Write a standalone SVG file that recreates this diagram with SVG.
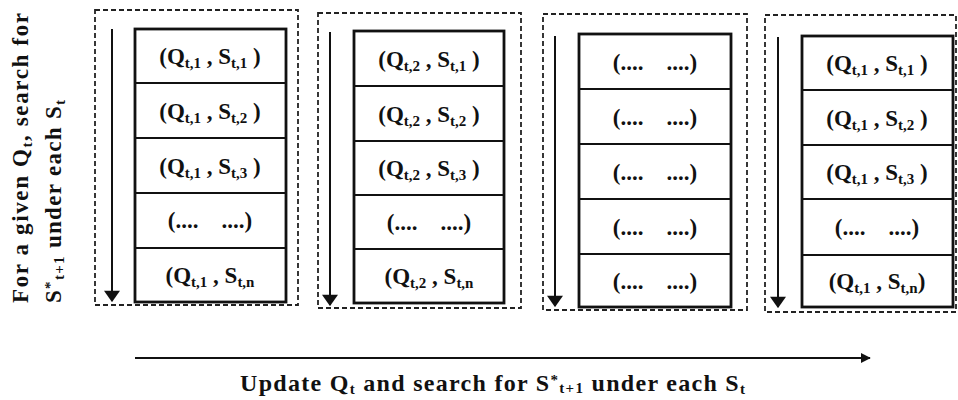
<svg xmlns="http://www.w3.org/2000/svg" width="958" height="400" viewBox="0 0 958 400">
<style>
text{font-family:"Liberation Serif","Times New Roman",serif;font-weight:bold;fill:#111;white-space:pre}
.cell{font-size:23px;text-anchor:middle}
.sub{font-size:15px}
.dash{fill:none;stroke:#222;stroke-width:1.8;stroke-dasharray:5 3}
.tbl{fill:#fff;stroke:#111;stroke-width:2.8}
.row{stroke:#111;stroke-width:2.2}
.arr{stroke:#111;stroke-width:2;fill:none}
.lbl{font-size:23px}
</style>
<defs>
<marker id="ah" viewBox="0 0 10 14" refX="9" refY="7" markerWidth="6" markerHeight="8" markerUnits="strokeWidth" orient="auto">
<path d="M0,0 L10,7 L0,14 z" fill="#111"/>
</marker>
<marker id="ah2" viewBox="0 0 12 12" refX="11" refY="6" markerWidth="5" markerHeight="5" markerUnits="strokeWidth" orient="auto">
<path d="M0,0 L12,6 L0,12 z" fill="#111"/>
</marker>
</defs>
<rect width="958" height="400" fill="#fff"/>

<g id="side-label">
<text class="lbl" transform="translate(28,303) rotate(-90)" textLength="290" lengthAdjust="spacing">For a given Q<tspan class="sub" dy="4">t</tspan><tspan dy="-4">, search for</tspan></text>
<text class="lbl" transform="translate(61,303) rotate(-90)" textLength="203" lengthAdjust="spacing">S<tspan class="sub" dy="-6">*</tspan><tspan class="sub" dy="9">t+1</tspan><tspan dy="-3"> under each S</tspan><tspan class="sub" dy="4">t</tspan></text>
</g>

<g id="connectors">
<line class="arr" x1="112" y1="29" x2="112" y2="301" marker-end="url(#ah)"/>
<line class="arr" x1="330" y1="32" x2="330" y2="305" marker-end="url(#ah)"/>
<line class="arr" x1="555" y1="36" x2="555" y2="306" marker-end="url(#ah)"/>
<line class="arr" x1="778" y1="37" x2="778" y2="307" marker-end="url(#ah)"/>
<line class="arr" x1="135" y1="358" x2="870" y2="358" stroke-width="2.6" marker-end="url(#ah2)"/>
</g>

<g id="panel1">
<rect class="dash" x="95" y="10" width="203" height="295"/>
<rect class="tbl" x="135" y="29" width="151" height="273"/>
<line class="row" x1="135" y1="83" x2="286" y2="83"/>
<line class="row" x1="135" y1="138" x2="286" y2="138"/>
<line class="row" x1="135" y1="193" x2="286" y2="193"/>
<line class="row" x1="135" y1="248" x2="286" y2="248"/>
<text class="cell" x="210" y="64">(Q<tspan class="sub" dy="4">t,1</tspan><tspan dy="-4"> , S</tspan><tspan class="sub" dy="4">t,1</tspan><tspan dy="-4"> )</tspan></text>
<text class="cell" x="210" y="119">(Q<tspan class="sub" dy="4">t,1</tspan><tspan dy="-4"> , S</tspan><tspan class="sub" dy="4">t,2</tspan><tspan dy="-4"> )</tspan></text>
<text class="cell" x="210" y="174">(Q<tspan class="sub" dy="4">t,1</tspan><tspan dy="-4"> , S</tspan><tspan class="sub" dy="4">t,3</tspan><tspan dy="-4"> )</tspan></text>
<text class="cell" x="210" y="228">(....    ....)</text>
<text class="cell" x="210" y="283">(Q<tspan class="sub" dy="4">t,1</tspan><tspan dy="-4"> , S</tspan><tspan class="sub" dy="4">t,n</tspan></text>
</g>

<g id="panel2">
<rect class="dash" x="318" y="13" width="203" height="295"/>
<rect class="tbl" x="354" y="31" width="150" height="272"/>
<line class="row" x1="354" y1="86" x2="504" y2="86"/>
<line class="row" x1="354" y1="141" x2="504" y2="141"/>
<line class="row" x1="354" y1="195" x2="504" y2="195"/>
<line class="row" x1="354" y1="249" x2="504" y2="249"/>
<text class="cell" x="429" y="67">(Q<tspan class="sub" dy="4">t,2</tspan><tspan dy="-4"> , S</tspan><tspan class="sub" dy="4">t,1</tspan><tspan dy="-4"> )</tspan></text>
<text class="cell" x="429" y="122">(Q<tspan class="sub" dy="4">t,2</tspan><tspan dy="-4"> , S</tspan><tspan class="sub" dy="4">t,2</tspan><tspan dy="-4"> )</tspan></text>
<text class="cell" x="429" y="176">(Q<tspan class="sub" dy="4">t,2</tspan><tspan dy="-4"> , S</tspan><tspan class="sub" dy="4">t,3</tspan><tspan dy="-4"> )</tspan></text>
<text class="cell" x="429" y="230">(....    ....)</text>
<text class="cell" x="429" y="284">(Q<tspan class="sub" dy="4">t,2</tspan><tspan dy="-4"> , S</tspan><tspan class="sub" dy="4">t,n</tspan></text>
</g>

<g id="panel3">
<rect class="dash" x="543" y="14" width="204" height="296"/>
<rect class="tbl" x="579" y="34" width="152" height="273"/>
<line class="row" x1="579" y1="89" x2="731" y2="89"/>
<line class="row" x1="579" y1="144" x2="731" y2="144"/>
<line class="row" x1="579" y1="199" x2="731" y2="199"/>
<line class="row" x1="579" y1="254" x2="731" y2="254"/>
<text class="cell" x="655" y="70">(....    ....)</text>
<text class="cell" x="655" y="125">(....    ....)</text>
<text class="cell" x="655" y="180">(....    ....)</text>
<text class="cell" x="655" y="235">(....    ....)</text>
<text class="cell" x="655" y="289">(....    ....)</text>
</g>

<g id="panel4">
<rect class="dash" x="765" y="15" width="191" height="297"/>
<rect class="tbl" x="802" y="36" width="151" height="271"/>
<line class="row" x1="802" y1="90" x2="953" y2="90"/>
<line class="row" x1="802" y1="145" x2="953" y2="145"/>
<line class="row" x1="802" y1="199" x2="953" y2="199"/>
<line class="row" x1="802" y1="255" x2="953" y2="255"/>
<text class="cell" x="877" y="71">(Q<tspan class="sub" dy="4">t,1</tspan><tspan dy="-4"> , S</tspan><tspan class="sub" dy="4">t,1</tspan><tspan dy="-4"> )</tspan></text>
<text class="cell" x="877" y="126">(Q<tspan class="sub" dy="4">t,1</tspan><tspan dy="-4"> , S</tspan><tspan class="sub" dy="4">t,2</tspan><tspan dy="-4"> )</tspan></text>
<text class="cell" x="877" y="180">(Q<tspan class="sub" dy="4">t,1</tspan><tspan dy="-4"> , S</tspan><tspan class="sub" dy="4">t,3</tspan><tspan dy="-4"> )</tspan></text>
<text class="cell" x="877" y="235">(....    ....)</text>
<text class="cell" x="877" y="289">(Q<tspan class="sub" dy="4">t,1</tspan><tspan dy="-4"> , S</tspan><tspan class="sub" dy="4">t,n</tspan><tspan dy="-4">)</tspan></text>
</g>

<g id="bottom-label">
<text x="240" y="391" textLength="505" lengthAdjust="spacing" style="font-size:24px">Update Q<tspan class="sub" dy="3">t</tspan><tspan dy="-3"> and search for S</tspan><tspan class="sub" dy="-6">*</tspan><tspan class="sub" dy="8">t+1</tspan><tspan dy="-2"> under each S</tspan><tspan class="sub" dy="3">t</tspan></text>
</g>
</svg>
